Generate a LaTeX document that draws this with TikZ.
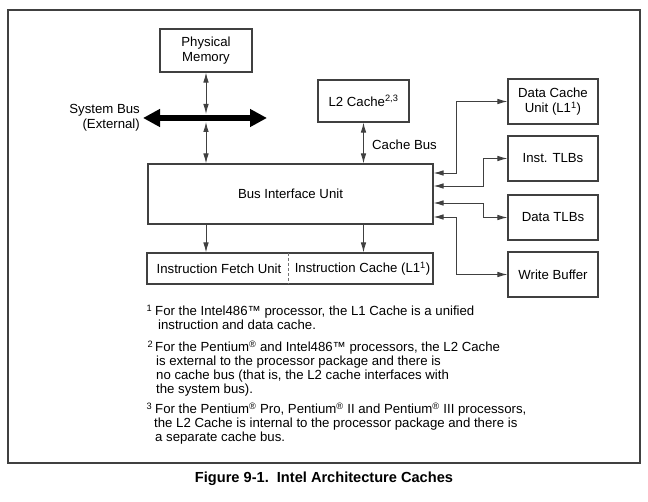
\documentclass[tikz,border=0pt]{standalone}
\usepackage{fontspec}
\setmainfont{Liberation Sans}
\usetikzlibrary{arrows.meta}
\begin{document}
\begin{tikzpicture}[x=1pt,y=-1pt,
  lbl/.style={font=\fontsize{13.2}{15}\selectfont},
  fn/.style={font=\fontsize{13.2}{14}\selectfont, anchor=base west, inner sep=0pt},
  box/.style={draw=black!75, line width=1.1pt, inner sep=0pt, align=center, lbl},
  conn/.style={draw=black!75, line width=0.9pt},
  dbl/.style={conn, {Latex[length=10pt,width=5.5pt]}-{Latex[length=10pt,width=5.5pt]}},
  sgl/.style={conn, -{Latex[length=10pt,width=5.5pt]}},
]
\useasboundingbox (0,0) rectangle (648,502);
% frame
\draw[draw=black!75, line width=1.4pt] (8,10) rectangle (640,463);

% boxes
\node[box, minimum width=92, minimum height=43] (pm) at (206,50.5) {Physical\\Memory};
\node[box, minimum width=91, minimum height=42] (l2) at (363.5,101) {L2 Cache\textsuperscript{2,3}};
\node[box, minimum width=285, minimum height=60] (biu) at (290.5,194) {Bus Interface Unit};
\node[box, minimum width=90, minimum height=45] (dcu) at (553,101.5) {Data Cache\\Unit (L1\textsuperscript{1})};
\node[box, minimum width=90, minimum height=45] (itlb) at (553,158.5) {Inst. TLBs};
\node[box, minimum width=90, minimum height=45] (dtlb) at (553,217.5) {Data TLBs};
\node[box, minimum width=90, minimum height=45] (wb) at (553,274.5) {Write Buffer};
\node[box, minimum width=286, minimum height=31] (ib) at (290,268.5) {};
\node[lbl, inner sep=0pt] (ifu) at (219,268.5) {Instruction Fetch Unit};
\node[lbl, inner sep=0pt] (ic) at (362.5,268.5) {Instruction Cache (L1\textsuperscript{1})};
\coordinate (divT) at (288,253);
\coordinate (divB) at (288,284);
\draw[black!55, line width=0.6pt, dash pattern=on 3pt off 2pt] (divT) -- (divB);

% system bus
\coordinate (busL) at (143,118);
\coordinate (busR) at (267,118);
\draw[black, line width=6pt, {Triangle[length=17pt,width=17pt]}-{Triangle[length=17pt,width=17pt]}] (busL) -- (busR);
\node[lbl, align=right, anchor=east, inner sep=0pt] (sbl) at (140,118) {System Bus\\(External)};
\coordinate (bt) at (206,114);
\coordinate (bb) at (206,122);
\draw[dbl] (pm.south) -- (bt);
\draw[dbl] (bb) -- (bb |- biu.north);

% cache bus
\draw[dbl] (l2.south) -- (l2.south |- biu.north);
\node[lbl, anchor=west, inner sep=0pt] (cbl) at (372,145) {Cache Bus};

% down arrows
\draw[sgl] (pm.south |- biu.south) -- (pm.south |- ib.north);
\draw[sgl] (l2.south |- biu.south) -- (l2.south |- ib.north);

% right connectors
\draw[dbl] (biu.east |- 0,173) -- (456,173) |- (dcu.west);
\draw[dbl] (biu.east |- 0,186) -- (483,186) |- (itlb.west);
\draw[dbl] (biu.east |- 0,203) -- (483,203) |- (dtlb.west);
\draw[dbl] (biu.east |- 0,217) -- (456,217) |- (wb.west);

% footnotes
\node[fn] (f1a) at (155,315.5) {\llap{\textsuperscript{1}\hspace{3pt}}For the Intel486\texttrademark{} processor, the L1 Cache is a unified};
\node[fn] (f1b) at (158,329.5) {instruction and data cache.};
\node[fn] (f2a) at (155,351.5) {\llap{\textsuperscript{2}\hspace{2pt}}For the Pentium\textsuperscript{\textregistered} and Intel486\texttrademark{} processors, the L2 Cache};
\node[fn] (f2b) at (156,365.5) {is external to the processor package and there is};
\node[fn] (f2c) at (156,379.5) {no cache bus (that is, the L2 cache interfaces with};
\node[fn] (f2d) at (156,393.5) {the system bus).};
\node[fn] (f3a) at (155,413.5) {\llap{\textsuperscript{3}\hspace{3pt}}For the Pentium\textsuperscript{\textregistered} Pro, Pentium\textsuperscript{\textregistered} II and Pentium\textsuperscript{\textregistered} III processors,};
\node[fn] (f3b) at (154,427.5) {the L2 Cache is internal to the processor package and there is};
\node[fn] (f3c) at (155,441.5) {a separate cache bus.};

% caption
\node[font=\bfseries\fontsize{14.6}{17}\selectfont, inner sep=0pt] (cap) at (324,479) {Figure 9-1.\ \ Intel Architecture Caches};
\end{tikzpicture}
\end{document}
